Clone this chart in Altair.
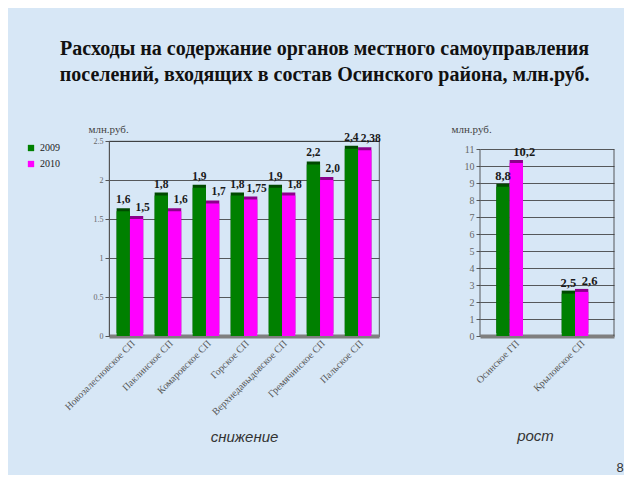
import altair as alt
import pandas as pd

years = ["2009", "2010"]

left_cats = ["Новозалесновское СП", "Паклинское СП", "Комаровское СП", "Горское СП",
             "Верхнедавыдовское СП", "Гремячинское СП", "Пальское СП"]
left_2009 = [1.6, 1.8, 1.9, 1.8, 1.9, 2.2, 2.4]
left_2010 = [1.5, 1.6, 1.7, 1.75, 1.8, 2.0, 2.38]
left_lbl_2009 = ["1,6", "1,8", "1,9", "1,8", "1,9", "2,2", "2,4"]
left_lbl_2010 = ["1,5", "1,6", "1,7", "1,75", "1,8", "2,0", "2,38"]

right_cats = ["Осинское ГП", "Крыловское СП"]
right_2009 = [8.8, 2.5]
right_2010 = [10.2, 2.6]
right_lbl_2009 = ["8,8", "2,5"]
right_lbl_2010 = ["10,2", "2,6"]

front_colors = ["#008000", "#ff00ff"]
side_colors = ["#004a00", "#8c008c"]

title_lines = ["Расходы на содержание органов местного самоуправления",
               "поселений, входящих в состав Осинского района, млн.руб."]

SERIF = "Liberation Serif"
SANS = "Liberation Sans"


def make_df(cats, v09, v10, l09, l10):
    rows = []
    for c, a, b, la, lb in zip(cats, v09, v10, l09, l10):
        rows.append({"cat": c, "year": "2009", "value": a, "label": la, "side": side_colors[0]})
        rows.append({"cat": c, "year": "2010", "value": b, "label": lb, "side": side_colors[1]})
    return pd.DataFrame(rows)


def panel(df, cats, width, height, ymin_dom, ymax_dom, yvals, pin, pout, xtitle, xtitle_pad,
          titleX, titleY, label_size, tick_size, show_legend, dx10, xtitle_x=None,
          frame_top=None):
    xaxis = dict(title=xtitle, labelAngle=-45, labelFont=SERIF, labelFontSize=10,
                 labelColor="#555555", ticks=False, domain=True, domainColor="#7f7f7f",
                 domainWidth=4,
                 titleFont=SANS, titleFontStyle="italic", titleFontWeight="normal",
                 titleFontSize=15, titleColor="#333333", titlePadding=xtitle_pad)
    if xtitle_x is not None:
        xaxis["titleX"] = xtitle_x
    x = alt.X("cat:N", sort=cats,
              scale=alt.Scale(paddingInner=pin, paddingOuter=pout),
              axis=alt.Axis(**xaxis))
    xo = alt.XOffset("year:N", sort=years)
    yaxis = alt.Axis(values=yvals, format="~g", title="млн.руб.", titleAngle=0,
                     titleAlign="left", titleX=titleX, titleY=titleY,
                     titleBaseline="alphabetic", titleFont=SERIF,
                     titleFontWeight="normal", titleFontSize=11, titleColor="#444444",
                     labelFont=SERIF, labelFontSize=tick_size, labelColor="#666666",
                     labelOverlap=False,
                     grid=True, gridColor="#333333", gridWidth=0.8,
                     domain=frame_top is None, domainColor="#555555",
                     tickColor="#555555", tickSize=4)
    yscale = alt.Scale(domain=[ymin_dom, ymax_dom], nice=False, zero=True)

    def Y(field):
        return alt.Y(field, scale=yscale, axis=yaxis)

    base = alt.Chart(df)
    side = base.mark_bar(xOffset=3, x2Offset=3, yOffset=-3, y2Offset=-3).encode(
        x=x, xOffset=xo, y=Y("value:Q"), color=alt.Color("side:N", scale=None))
    if show_legend:
        leg = alt.Legend(title=None, orient="none", legendX=-83, legendY=2,
                         labelFont=SERIF, labelFontSize=10, labelColor="#222222",
                         symbolType="square", symbolSize=40, rowPadding=6,
                         symbolStrokeWidth=0)
    else:
        leg = None
    front = base.mark_bar().encode(
        x=x, xOffset=xo, y=Y("value:Q"),
        color=alt.Color("year:N", sort=years,
                        scale=alt.Scale(domain=years, range=front_colors), legend=leg))
    t09 = base.transform_filter(alt.datum.year == "2009").mark_text(
        dy=-11, dx=0, font=SERIF, fontWeight="bold",
        fontSize=label_size, color="#1a1a1a").encode(
        x=x, xOffset=xo, y=Y("value:Q"), text="label:N")
    t10 = base.transform_filter(alt.datum.year == "2010").mark_text(
        dy=-11, dx=dx10, font=SERIF, fontWeight="bold",
        fontSize=label_size, color="#1a1a1a").encode(
        x=x, xOffset=xo, y=Y("value:Q"), text="label:N")
    layers = [side, front, t09, t10]
    if frame_top is not None:
        fr = pd.DataFrame({"lo": [0], "hi": [frame_top]})
        left_edge = alt.Chart(fr).mark_rule(color="#333333", strokeWidth=0.8).encode(
            x=alt.value(0), y=Y("lo:Q"), y2="hi:Q")
        right_edge = alt.Chart(fr).mark_rule(color="#333333", strokeWidth=0.8).encode(
            x=alt.value(width), y=Y("lo:Q"), y2="hi:Q")
        layers = [left_edge, right_edge] + layers
        view = alt.ViewBackground(stroke=None)
    else:
        view = alt.ViewBackground(stroke="#333333", strokeWidth=0.8)
    return alt.layer(*layers).properties(width=width, height=height, view=view)


left_df = make_df(left_cats, left_2009, left_2010, left_lbl_2009, left_lbl_2010)
right_df = make_df(right_cats, right_2009, right_2010, right_lbl_2009, right_lbl_2010)

left = panel(left_df, left_cats, 270, 195, 0, 2.5, [0, 0.5, 1, 1.5, 2, 2.5], 0.3, 0.2,
             "снижение", 13, -21, -9, 11.5, 8, True, 6)
right_main = panel(right_df, right_cats, 134, 195, 0, 11.5, list(range(0, 12)), 0.45, 0.25,
                   "рост", 35, -29, -9, 12.5, 10, False, 8, xtitle_x=55, frame_top=11)
page_num = alt.Chart(pd.DataFrame({"t": ["8"]})).mark_text(
    font=SANS, fontSize=13, color="#333333", align="center").encode(
    x=alt.value(140), y=alt.value(327), text="t:N")
right = alt.layer(right_main, page_num)

chart = alt.hconcat(left, right, spacing=69).resolve_scale(color="independent").properties(
    title=alt.TitleParams(title_lines, font=SERIF, fontSize=20, fontWeight="bold",
                          color="#111111", anchor="middle", lineHeight=26, offset=38),
    padding={"left": 17, "top": 30, "right": 0, "bottom": 0},
    background="#d7e7f6",
)

chart.save("out.html", embed_options={"renderer": "svg", "actions": False})
